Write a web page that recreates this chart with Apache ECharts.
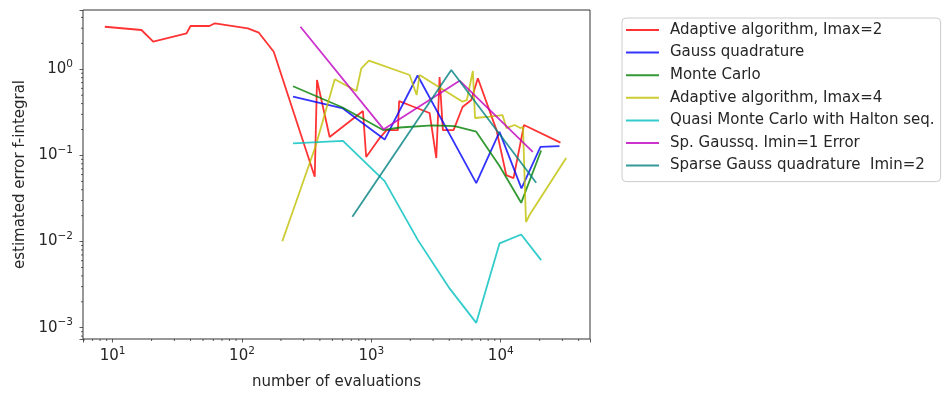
<!DOCTYPE html>
<html><head><meta charset="utf-8">
<script src="https://cdn.jsdelivr.net/npm/echarts@6/dist/echarts.min.js"></script>
<style>html,body{margin:0;padding:0;background:#fff}#c{width:947px;height:396px}</style>
</head><body><div id="c"></div>
<script>
// ---- data ----
const seriesNames = [
  'Adaptive algorithm, Imax=2',
  'Gauss quadrature',
  'Monte Carlo',
  'Adaptive algorithm, Imax=4',
  'Quasi Monte Carlo with Halton seq.',
  'Sp. Gaussq. Imin=1 Error',
  'Sparse Gauss quadrature  Imin=2'
];
const evalsAdaptive2 = [8.7, 16.7, 20.6, 37.3, 40, 56, 61.7, 111, 135, 176, 365, 380, 476, 861, 912, 1159, 1312, 1605, 1639, 2048, 2819, 3177, 3369, 3572, 4320, 5070, 5919, 6656, 9280, 11030, 12560, 15130, 28960];
const errAdaptive2   = [3.12, 2.86, 2.09, 2.62, 3.18, 3.18, 3.42, 2.99, 2.66, 1.60, 0.0566, 0.751, 0.164, 0.328, 0.0958, 0.159, 0.197, 0.197, 0.428, 0.375, 0.311, 0.0933, 0.814, 0.197, 0.197, 0.365, 0.440, 0.786, 0.197, 0.0592, 0.0546, 0.2255, 0.141];
const evalsGauss = [248, 603, 1267, 2278, 6470, 9790, 14470, 20290, 28440];
const errGauss   = [0.483, 0.351, 0.153, 0.847, 0.0478, 0.188, 0.0415, 0.126, 0.1285];
const evalsMC = [248, 600, 1231, 1654, 2975, 4398, 6470, 9790, 14390, 20540];
const errMC   = [0.635, 0.360, 0.197, 0.211, 0.224, 0.2195, 0.1885, 0.0753, 0.0282, 0.114];
const evalsAdaptive4 = [205, 371, 521, 766, 837, 958, 1976, 2238, 2360, 5070, 5473, 6089, 6332, 8193, 10320, 11080, 12780, 14220, 14870, 15680, 16690, 32050];
const errAdaptive4   = [0.0101, 0.1285, 0.765, 0.560, 1.027, 1.259, 0.859, 0.503, 0.859, 0.421, 0.440, 0.956, 0.272, 0.283, 0.2945, 0.208, 0.2255, 0.208, 0.2137, 0.01685, 0.0203, 0.0933];
const evalsQMC = [248, 603, 1267, 2290, 4023, 6470, 9790, 14390, 20540];
const errQMC   = [0.138, 0.148, 0.0504, 0.0104, 0.00286, 0.00114, 0.00953, 0.0121, 0.0061];
const evalsSpG1 = [283, 1245, 4808, 17700];
const errSpG1   = [3.12, 0.201, 0.737, 0.110];
const evalsSpG2 = [713, 4147, 18800];
const errSpG2   = [0.0194, 0.981, 0.0482];

const xRange = [5.9, 49000];
const yRange = [0.00074, 4.88];
const xMinorTicks = [6,7,8,9,20,30,40,50,60,70,80,90,200,300,400,500,600,700,800,900,2000,3000,4000,5000,6000,7000,8000,9000,20000,30000,40000];
const yMinorTicks = [0.0008,0.0009,0.002,0.003,0.004,0.005,0.006,0.007,0.008,0.009,0.02,0.03,0.04,0.05,0.06,0.07,0.08,0.09,0.2,0.3,0.4,0.5,0.6,0.7,0.8,0.9,2,3,4];
const xLabel = 'number of evaluations';
const yLabel = 'estimated error f-integral';

// ---- styling ----
const colors = ['rgba(255,0,0,0.8)','rgba(0,0,255,0.8)','rgba(0,128,0,0.8)','rgba(191,191,0,0.8)','rgba(0,191,191,0.8)','rgba(191,0,191,0.8)','rgba(0,128,128,0.8)'];
const FONT = 'DejaVu Sans';
const FS = 15;
const zip = (xs, ys) => xs.map((x, i) => [x, ys[i]]);
const seriesData = [
  zip(evalsAdaptive2, errAdaptive2),
  zip(evalsGauss, errGauss),
  zip(evalsMC, errMC),
  zip(evalsAdaptive4, errAdaptive4),
  zip(evalsQMC, errQMC),
  zip(evalsSpG1, errSpG1),
  zip(evalsSpG2, errSpG2)
];

function powLabel(v) {
  const l = Math.log10(v);
  const e = Math.round(l);
  if (Math.abs(l - e) > 1e-6) return '';
  return '{b|10}{e|' + (e < 0 ? '\u2212' + (-e) : e) + '}';
}
const rich = {
  b: {fontFamily: FONT, fontSize: FS, color: '#262626'},
  e: {fontFamily: FONT, fontSize: 10.5, color: '#262626', padding: [0, 0, 10, 0]}
};

const lineSeries = seriesData.map((d, i) => ({
  type: 'line', name: seriesNames[i], data: d,
  showSymbol: false, symbol: 'none', silent: true,
  color: colors[i],
  lineStyle: {color: colors[i], width: 1.8},
  itemStyle: {color: colors[i]},
  z: 3 + i
}));

const minorX = {
  type: 'custom', name: '_mx', silent: true, clip: false, z: 20,
  data: xMinorTicks.map(v => [v, yRange[0]]),
  renderItem: (p, api) => {
    const c = api.coord([api.value(0), yRange[0]]);
    return {type: 'line', shape: {x1: c[0], y1: c[1], x2: c[0], y2: c[1] + 2}, style: {stroke: '#333', lineWidth: 0.8}};
  }
};
const minorY = {
  type: 'custom', name: '_my', silent: true, clip: false, z: 20,
  data: yMinorTicks.map(v => [xRange[0], v]),
  renderItem: (p, api) => {
    const c = api.coord([xRange[0], api.value(1)]);
    return {type: 'line', shape: {x1: c[0], y1: c[1], x2: c[0] - 2, y2: c[1]}, style: {stroke: '#333', lineWidth: 0.8}};
  }
};

const chart = echarts.init(document.getElementById('c'), null, {renderer: 'canvas'});
chart.setOption({
  animation: false,
  backgroundColor: '#ffffff',
  grid: {left: 83, right: 357, top: 10, bottom: 57, show: true, borderColor: '#333', borderWidth: 1, backgroundColor: 'transparent', containLabel: false},
  xAxis: {
    type: 'log', logBase: 10, min: xRange[0], max: xRange[1],
    name: xLabel, nameLocation: 'middle', nameGap: 36,
    nameTextStyle: {fontFamily: FONT, fontSize: FS, color: '#262626'},
    axisLine: {show: false},
    axisTick: {show: true, inside: false, length: 3.5, lineStyle: {color: '#333', width: 0.8}},
    axisLabel: {formatter: powLabel, rich: rich, margin: 7, hideOverlap: false},
    splitLine: {show: false}, minorTick: {show: false}
  },
  yAxis: {
    type: 'log', logBase: 10, min: yRange[0], max: yRange[1],
    name: yLabel, nameLocation: 'middle', nameGap: 55, nameRotate: 90,
    nameTextStyle: {fontFamily: FONT, fontSize: FS, color: '#262626'},
    axisLine: {show: false},
    axisTick: {show: true, inside: false, length: 3.5, lineStyle: {color: '#333', width: 0.8}},
    axisLabel: {formatter: powLabel, rich: rich, margin: 10, hideOverlap: false},
    splitLine: {show: false}, minorTick: {show: false}
  },
  legend: {
    show: true, orient: 'vertical', left: 622, top: 18,
    data: seriesNames.map(n => ({name: n})),
    icon: 'rect', itemWidth: 33, itemHeight: 2, itemGap: 6.6,
    padding: [4, 6, 8, 4],
    borderColor: '#cccccc', borderWidth: 1, borderRadius: 4, backgroundColor: 'rgba(255,255,255,0.8)',
    selectedMode: false,
    textStyle: {fontFamily: FONT, fontSize: FS, color: '#262626', lineHeight: 16, padding: [0, 0, 0, 6]}
  },
  series: lineSeries.concat([minorX, minorY])
});
</script></body></html>
